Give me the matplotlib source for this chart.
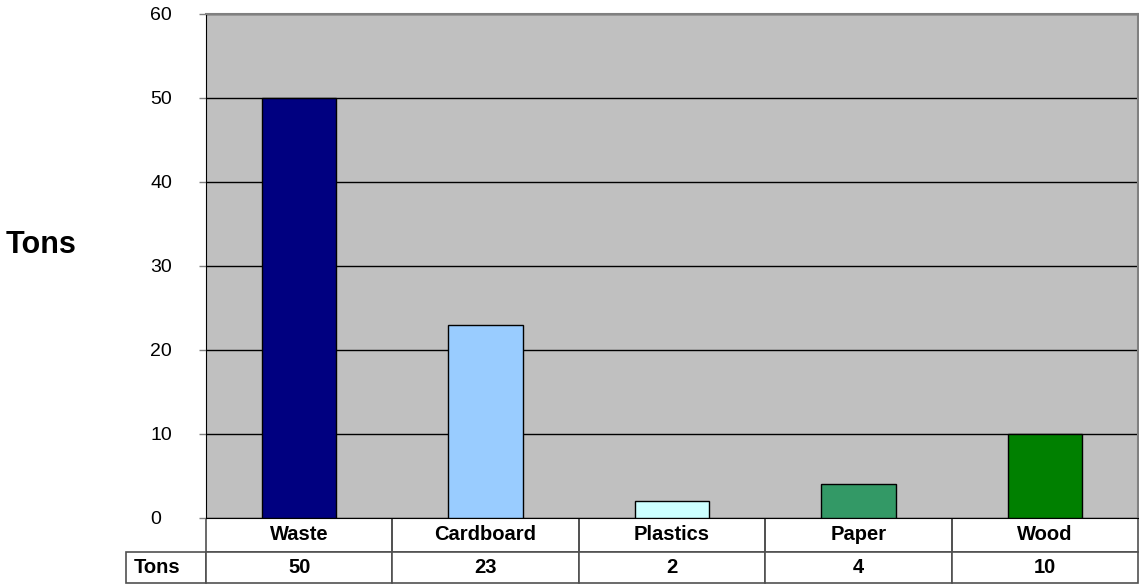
import matplotlib
matplotlib.use("Agg")
import matplotlib.pyplot as plt

categories = ["Waste", "Cardboard", "Plastics", "Paper", "Wood"]
tons = [50, 23, 2, 4, 10]
bar_colors = ["#000080", "#99CCFF", "#CCFFFF", "#339966", "#008000"]
yticks = [0, 10, 20, 30, 40, 50, 60]
row_label = "Tons"

plt.rcParams["font.family"] = ["Liberation Sans", "DejaVu Sans"]

W, H = 1139, 584
fig = plt.figure(figsize=(W / 100, H / 100), dpi=100)
# axes box in pixels: left 206, right 1138, top 14, bottom 518
L, R, T, B = 206, 1138, 14, 518
ax = fig.add_axes([L / W, 1 - B / H, (R - L) / W, (B - T) / H])
ax.set_facecolor("#C0C0C0")

x = list(range(len(categories)))
ax.bar(x, tons, width=0.4, color=bar_colors, edgecolor="black", linewidth=1, zorder=3)

ax.set_xlim(-0.5, len(categories) - 0.5)
ax.set_ylim(0, 60)
ax.set_yticks(yticks)
ax.set_xticks([])
ax.grid(axis="y", color="black", linewidth=1, zorder=1)
ax.set_axisbelow(True)

ax.tick_params(axis="y", length=5, width=1, color="#808080", pad=35.3, labelsize=14)
plt.setp(ax.get_yticklabels(), ha="left")

for side in ("top", "right"):
    ax.spines[side].set_color("#808080")
    ax.spines[side].set_linewidth(1.5)
ax.spines["left"].set_color("black")
ax.spines["bottom"].set_color("black")

ax.set_ylabel(row_label, rotation=0, fontsize=22, fontweight="bold", ha="left", va="baseline")
ax.yaxis.set_label_coords((6 - L) / (R - L), (B - 253) / (B - T))

# data table under the plot: first column holds the row label
axw, axh = R - L, B - T
lab_w, col_w = 80, axw / len(categories)
row1_h, row2_h = 34, 31
tbl = ax.table(cellText=[[row_label] + [str(v) for v in tons]], colLabels=[""] + categories,
               cellLoc="center",
               bbox=[-lab_w / axw, -(row1_h + row2_h) / axh, (axw + lab_w) / axw, (row1_h + row2_h) / axh])
tbl.auto_set_font_size(False)
for (r, c), cell in tbl.get_celld().items():
    cell.set_edgecolor("#505050")
    cell.set_linewidth(1.2)
    cell.set_facecolor("none" if (r, c) == (0, 0) else "white")
    cell.set_width(lab_w if c == 0 else col_w)
    cell.set_height(row1_h if r == 0 else row2_h)
    cell.get_text().set_fontsize(14.5)
    cell.get_text().set_fontweight("bold")
    if r == 0:
        cell.visible_edges = "" if c == 0 else "LRB"
    if (r, c) == (1, 0):
        cell.get_text().set_horizontalalignment("left")
        cell._loc = "left"

fig.savefig("out.png", dpi=100)
